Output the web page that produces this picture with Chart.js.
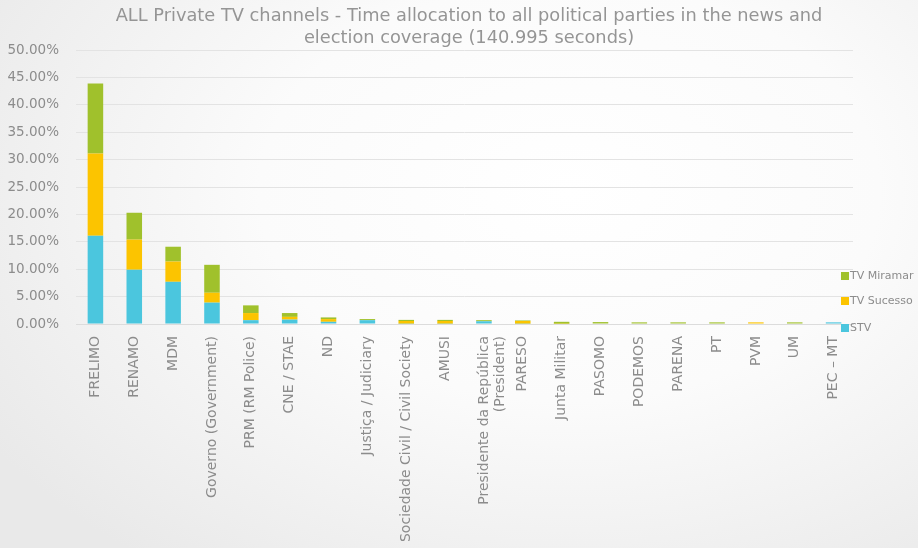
<!DOCTYPE html>
<html>
<head>
<meta charset="utf-8">
<script src="https://cdn.jsdelivr.net/npm/chart.js@4"></script>
<style>
  html, body { margin: 0; padding: 0; }
  #wrap {
    width: 918px; height: 548px;
    background: radial-gradient(ellipse 75% 85% at 62% 35%, #ffffff 0%, #fbfbfb 45%, #e9e9e9 100%);
  }
</style>
</head>
<body>
<div id="wrap"><canvas id="chart" width="918" height="548"></canvas></div>
<script>
// categories along the x axis
const categories = [
  'FRELIMO', 'RENAMO', 'MDM', 'Governo (Government)', 'PRM (RM Police)',
  'CNE / STAE', 'ND', 'Justiça / Judiciary', 'Sociedade Civil / Civil Society', 'AMUSI',
  ['Presidente da República', '(President)'], 'PARESO', 'Junta Militar', 'PASOMO', 'PODEMOS',
  'PARENA', 'PT', 'PVM', 'UM', 'PEC – MT'
];

// share of time (%) per channel
const stv     = [16.1, 9.9, 7.7, 3.9, 0.7, 0.8, 0.4, 0.7, 0.05, 0.05, 0.5, 0.05, 0, 0, 0, 0, 0, 0, 0, 0.3];
const sucesso = [15.0, 5.5, 3.7, 1.8, 1.3, 0.5, 0.5, 0, 0.5, 0.5, 0, 0.5, 0.05, 0, 0, 0, 0, 0.3, 0, 0];
const miramar = [12.8, 4.9, 2.7, 5.1, 1.4, 0.7, 0.3, 0.2, 0.2, 0.2, 0.2, 0.1, 0.35, 0.35, 0.3, 0.3, 0.3, 0, 0.3, 0];

const yTicks = [0, 5, 10, 15, 20, 25, 30, 35, 40, 45, 50];

const titleLines = [
  'ALL Private TV channels - Time allocation to all political parties in the news and',
  'election coverage (140.995 seconds)'
];

const grey = '#8c8c8c';
const fontFamily = '"DejaVu Sans", sans-serif';

// title drawn by hand so it can sit centred on the page rather than the plot
const pageTitle = {
  id: 'pageTitle',
  afterDraw(chart) {
    const ctx = chart.ctx;
    ctx.save();
    ctx.font = '17.8px ' + fontFamily;
    ctx.fillStyle = '#959595';
    ctx.textAlign = 'center';
    ctx.textBaseline = 'middle';
    titleLines.forEach((t, i) => ctx.fillText(t, 469, 16 + i * 22));
    ctx.restore();
  }
};

// legend drawn on top of the plot, at the right edge
const sideLegend = {
  id: 'sideLegend',
  afterDraw(chart) {
    const ctx = chart.ctx;
    const items = chart.data.datasets.slice().reverse();
    const x = chart.chartArea.right - 12;
    const ys = [276, 301, 328];
    ctx.save();
    ctx.font = '11px ' + fontFamily;
    ctx.textBaseline = 'middle';
    items.forEach((ds, i) => {
      ctx.fillStyle = ds.backgroundColor;
      ctx.fillRect(x, ys[i] - 4, 8, 8);
      ctx.fillStyle = grey;
      ctx.fillText(ds.label, x + 9, ys[i]);
    });
    ctx.restore();
  }
};

new Chart(document.getElementById('chart'), {
  type: 'bar',
  data: {
    labels: categories,
    datasets: [
      { label: 'STV', data: stv, backgroundColor: '#4bc6de' },
      { label: 'TV Sucesso', data: sucesso, backgroundColor: '#fcc400' },
      { label: 'TV Miramar', data: miramar, backgroundColor: '#a0c12c' }
    ]
  },
  options: {
    responsive: false,
    animation: false,
    layout: { padding: { left: 0, right: 65, top: 50, bottom: 0 } },
    datasets: { bar: { categoryPercentage: 1, barPercentage: 0.4 } },
    scales: {
      x: {
        stacked: true,
        grid: { display: false },
        border: { display: true, color: '#dcdcdc' },
        ticks: {
          color: grey, font: { family: fontFamily, size: 14, lineHeight: 1.15 },
          maxRotation: 90, minRotation: 90, padding: 4, autoSkip: false
        },
        afterFit(scale) { scale.height = 224; }
      },
      y: {
        stacked: true,
        min: 0, max: 50,
        afterBuildTicks(scale) { scale.ticks = yTicks.map(v => ({ value: v })); },
        grid: { color: '#e3e3e3', drawTicks: false },
        border: { display: false },
        ticks: {
          color: grey, font: { family: fontFamily, size: 13.5 }, padding: 17,
          callback: v => v.toFixed(2) + '%'
        },
        afterFit(scale) { scale.width = 76; }
      }
    },
    plugins: {
      legend: { display: false },
      tooltip: { enabled: false },
      title: { display: false }
    }
  },
  plugins: [pageTitle, sideLegend]
});
</script>
</body>
</html>
